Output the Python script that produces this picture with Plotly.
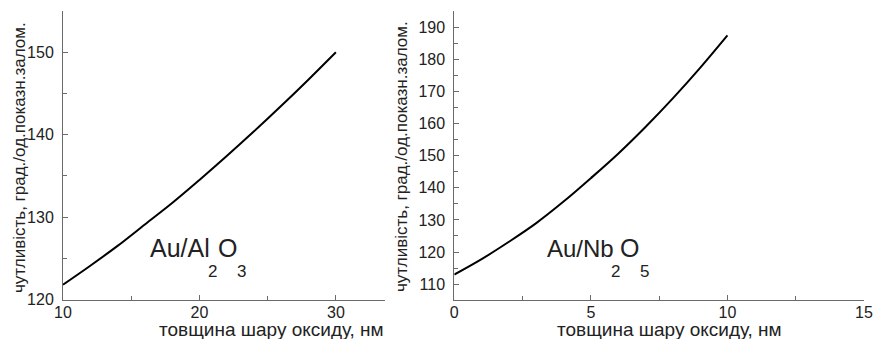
import plotly.graph_objects as go

W, H = 873, 339

# Data
al_thickness = [10, 12, 14, 16, 18, 20, 22, 24, 26, 28, 30]
al_sensitivity = [121.8, 124.1, 126.5, 129.1, 131.7, 134.5, 137.4, 140.4, 143.5, 146.7, 150.0]

nb_thickness = [0, 1, 2, 3, 4, 5, 6, 7, 8, 9, 10]
nb_sensitivity = [113.0, 117.8, 123.2, 129.0, 135.7, 143.0, 150.6, 158.9, 167.8, 177.3, 187.4]

x_title = "товщина шару оксиду, нм"
y_title = "чутливість, град./од.показн.залом."

FONT = "Liberation Sans, Arial, sans-serif"
AXIS_COL = "#6a6a6a"
TXT_COL = "#222222"


def px(x):
    return x / W


def py(y):
    return 1 - y / H


fig = go.Figure()
fig.add_trace(go.Scatter(x=al_thickness, y=al_sensitivity, mode="lines",
                         line=dict(color="black", width=2, shape="spline"),
                         xaxis="x", yaxis="y", showlegend=False, hoverinfo="skip"))
fig.add_trace(go.Scatter(x=nb_thickness, y=nb_sensitivity, mode="lines",
                         line=dict(color="black", width=2, shape="spline"),
                         xaxis="x2", yaxis="y2", showlegend=False, hoverinfo="skip"))

ydom = [py(299.5), py(11)]


def xaxis(dom, rng, dtick, anchor):
    return dict(domain=dom, range=rng, anchor=anchor, showgrid=False, zeroline=False,
                showline=True, linecolor=AXIS_COL, linewidth=1,
                ticks="inside", ticklen=5, tickcolor=AXIS_COL, tickwidth=1,
                tick0=0, dtick=dtick, automargin=False,
                minor=dict(ticks="inside", ticklen=4, tickcolor=AXIS_COL, dtick=dtick / 2, tick0=0),
                tickfont=dict(family=FONT, size=16, color=TXT_COL),
                ticklabelstandoff=-2)


def yaxis(rng, dtick, anchor):
    return dict(domain=ydom, range=rng, anchor=anchor, showgrid=False, zeroline=False,
                showline=True, linecolor=AXIS_COL, linewidth=1,
                ticks="inside", ticklen=5, tickcolor=AXIS_COL, tickwidth=1,
                tick0=0, dtick=dtick, automargin=False,
                minor=dict(ticks="inside", ticklen=4, tickcolor=AXIS_COL, dtick=dtick / 2, tick0=0),
                tickfont=dict(family=FONT, size=16, color=TXT_COL),
                ticklabelstandoff=5)


annotations = []


def text(x, y, s, size, anchor="left", angle=0):
    annotations.append(dict(x=px(x), y=py(y), xref="paper", yref="paper", text=s,
                            showarrow=False, xanchor=anchor, yanchor="middle",
                            textangle=angle, borderpad=0,
                            font=dict(family=FONT, size=size, color=TXT_COL)))


# axis titles
text(271, 329, x_title, 19, anchor="center")
text(669, 329, x_title, 19, anchor="center")
text(19, 158, y_title, 17, anchor="center", angle=-90)
text(401, 157, y_title, 17, anchor="center", angle=-90)

# sample labels
text(149, 248, "Au/Al", 25)
text(207, 271, "2", 17)
text(217, 248, "O", 25)
text(236, 271, "3", 17)

text(546, 248, "Au/Nb", 24)
text(610, 271, "2", 17)
text(619, 248, "O", 25)
text(639, 271, "5", 17)

fig.update_layout(
    width=W, height=H,
    margin=dict(l=0, r=0, t=0, b=0, autoexpand=False),
    paper_bgcolor="white", plot_bgcolor="white",
    xaxis=xaxis([px(63), px(385)], [10, 33.6], 10, "y"),
    yaxis=yaxis([120, 155], 10, "x"),
    xaxis2=xaxis([px(454.3), px(864)], [0, 15], 5, "y2"),
    yaxis2=yaxis([105.24, 195], 10, "x2"),
    annotations=annotations,
    showlegend=False,
)

fig.write_html("out.html", config={"displayModeBar": False},
               post_script="document.body.style.margin='0';document.body.style.overflow='hidden';")
